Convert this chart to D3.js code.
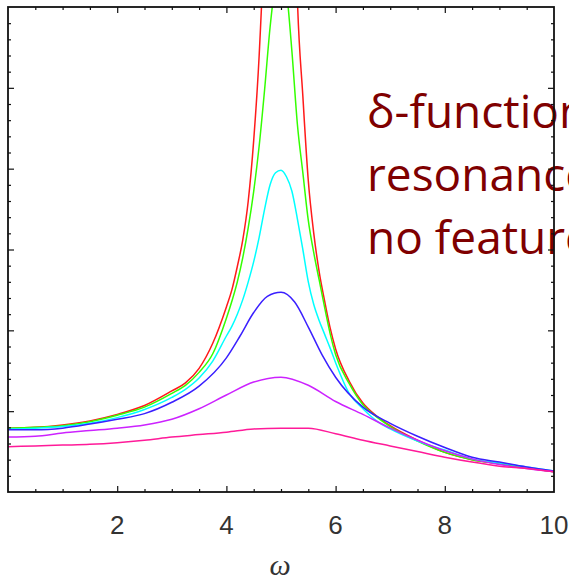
<!DOCTYPE html>
<html>
<head>
<meta charset="utf-8">
<script src="https://cdn.jsdelivr.net/npm/d3@7"></script>
<style>
  html, body { margin: 0; padding: 0; background: #fff; overflow: hidden; }
</style>
</head>
<body>
<div id="chart"></div>
<script>
// ── Data ────────────────────────────────────────
const omegaFine = [0,0.5,1,1.5,2,2.5,3,3.25,3.5,3.75,4,4.1,4.2,4.3,4.4,4.5,4.6,4.7,4.8,4.9,
                   5,5.1,5.2,5.3,5.4,5.5,5.6,5.7,5.8,5.9,6,6.25,6.5,6.75,7,7.5,8,8.5,9,9.5,10];
const omegaMid  = [0,0.5,1,1.5,2,2.5,3,3.5,4,4.25,4.5,4.75,5,5.25,5.5,5.75,6,6.5,7,7.5,8,8.5,9,9.5,10];
const omegaWide = [0,0.5,1,1.5,2,2.5,3,3.5,4,4.5,5,5.5,6,6.5,7,7.5,8,8.5,9,9.5,10];

const redValues   = [0.79,0.80,0.83,0.88,0.96,1.07,1.25,1.35,1.53,1.84,2.29,2.50,2.79,3.12,3.60,4.35,5.40,7.0,9.5,12,
                     13,12,9.0,6.1,4.9,3.85,3.2,2.72,2.36,2.03,1.77,1.37,1.10,0.94,0.82,0.64,0.49,0.40,0.35,0.30,0.25];
const greenValues = [0.79,0.80,0.82,0.87,0.95,1.05,1.22,1.32,1.48,1.71,2.15,2.36,2.60,2.90,3.27,3.72,4.28,4.98,5.75,6.3,
                     6.5,6.2,5.45,4.55,3.95,3.36,2.96,2.62,2.28,1.96,1.70,1.34,1.08,0.93,0.81,0.63,0.49,0.40,0.35,0.30,0.25];
const cyanValues  = [0.78,0.79,0.81,0.85,0.92,1.02,1.17,1.27,1.41,1.62,1.93,2.05,2.20,2.38,2.60,2.85,3.15,3.5,3.8,3.95,
                     3.98,3.9,3.72,3.38,3.0,2.6,2.32,2.12,1.95,1.78,1.6,1.22,1.03,0.88,0.78,0.63,0.52,0.41,0.36,0.31,0.26];
const blueValues  = [0.77,0.77,0.79,0.84,0.90,0.97,1.11,1.31,1.66,1.93,2.22,2.42,2.47,2.35,2.04,1.70,1.42,1.05,0.85,0.69,0.55,0.43,0.37,0.31,0.26];
const violetValues= [0.68,0.69,0.73,0.76,0.79,0.83,0.90,1.03,1.20,1.36,1.42,1.32,1.12,0.96,0.79,0.64,0.51,0.41,0.34,0.29,0.25];
const pinkValues  = [0.56,0.57,0.58,0.59,0.61,0.64,0.68,0.71,0.74,0.78,0.79,0.79,0.72,0.64,0.57,0.50,0.43,0.37,0.32,0.29,0.25];

const xTicks = [2,4,6,8,10];
const noteLines = ["δ-function", "resonance", "no feature"];

(function () {

  const W = 569, H = 577;
  const plot = { left: 8, right: 554, top: 7, bottom: 492 };

  const series = [
    { x: omegaFine, y: redValues,    color: "#ff1a1a" },
    { x: omegaFine, y: greenValues,  color: "#33ff00" },
    { x: omegaFine, y: cyanValues,   color: "#00ffff" },
    { x: omegaMid,  y: blueValues,   color: "#3a1fff" },
    { x: omegaWide, y: violetValues, color: "#cc22ff" },
    { x: omegaWide, y: pinkValues,   color: "#ff1a99" }
  ];

  const svg = d3.select("#chart").append("svg")
    .attr("width", W).attr("height", H);

  const x = d3.scaleLinear().domain([0, 10]).range([plot.left, plot.right]);
  const y = d3.scaleLinear().domain([0, 6]).range([plot.bottom, plot.top]);

  svg.append("clipPath").attr("id", "plot-clip")
    .append("rect")
    .attr("x", plot.left).attr("y", plot.top)
    .attr("width", plot.right - plot.left).attr("height", plot.bottom - plot.top);

  // ── Curves ───────────────────────────────────
  const line = d3.line().curve(d3.curveMonotoneX);
  const curves = svg.append("g").attr("clip-path", "url(#plot-clip)");
  series.forEach(s => {
    curves.append("path")
      .attr("d", line(s.x.map((w, i) => [x(w), y(s.y[i])])))
      .attr("fill", "none")
      .attr("stroke", s.color)
      .attr("stroke-width", 1.5);
  });

  // ── Overlay note (runs off the right edge, as in the slide) ──
  const note = svg.append("text")
    .attr("font-family", "'Open Sans', sans-serif")
    .attr("font-size", "46px")
    .attr("fill", "#7f0000");
  noteLines.forEach((t, i) => {
    note.append("tspan").attr("x", 367).attr("y", 128 + i * 63).text(t);
  });

  // ── Frame with inward ticks ──────────────────
  const minorX = d3.range(0.5, 10, 0.5);
  const minorY = d3.range(0.2, 6, 0.2);

  function styleAxis(g) {
    g.select(".domain").remove();
    g.selectAll(".tick line").attr("stroke", "#111").attr("stroke-width", 1.2);
  }

  // bottom / top
  [[plot.bottom, d3.axisTop], [plot.top, d3.axisBottom]].forEach(([pos, ax]) => {
    svg.append("g").attr("transform", `translate(0,${pos})`)
      .call(ax(x).tickValues(minorX.filter(v => v % 2 !== 0)).tickSize(3).tickFormat(""))
      .call(styleAxis);
    svg.append("g").attr("transform", `translate(0,${pos})`)
      .call(ax(x).tickValues([2,4,6,8]).tickSize(6).tickFormat(""))
      .call(styleAxis);
  });
  // left / right
  const isMajor = v => Math.abs(v - Math.round(v)) < 1e-6;
  [[plot.left, d3.axisRight], [plot.right, d3.axisLeft]].forEach(([pos, ax]) => {
    svg.append("g").attr("transform", `translate(${pos},0)`)
      .call(ax(y).tickValues(minorY.filter(v => !isMajor(v))).tickSize(3).tickFormat(""))
      .call(styleAxis);
    svg.append("g").attr("transform", `translate(${pos},0)`)
      .call(ax(y).tickValues([1,2,3,4,5]).tickSize(6).tickFormat(""))
      .call(styleAxis);
  });

  svg.append("rect")
    .attr("x", plot.left).attr("y", plot.top)
    .attr("width", plot.right - plot.left).attr("height", plot.bottom - plot.top)
    .attr("fill", "none").attr("stroke", "#111").attr("stroke-width", 1.8);

  // tick labels
  svg.append("g").selectAll("text").data(xTicks).join("text")
    .attr("x", d => x(d)).attr("y", 534)
    .attr("text-anchor", "middle")
    .attr("font-family", "'Liberation Sans', Arial, sans-serif")
    .attr("font-size", "26px").attr("fill", "#333")
    .text(d => d);

  // axis label
  svg.append("text")
    .attr("x", (plot.left + plot.right) / 2 - 1).attr("y", 575)
    .attr("text-anchor", "middle")
    .attr("font-family", "'Liberation Serif', 'DejaVu Serif', serif")
    .attr("font-style", "italic").attr("font-size", "30px").attr("fill", "#333")
    .text("ω");

})();
</script>
</body>
</html>
